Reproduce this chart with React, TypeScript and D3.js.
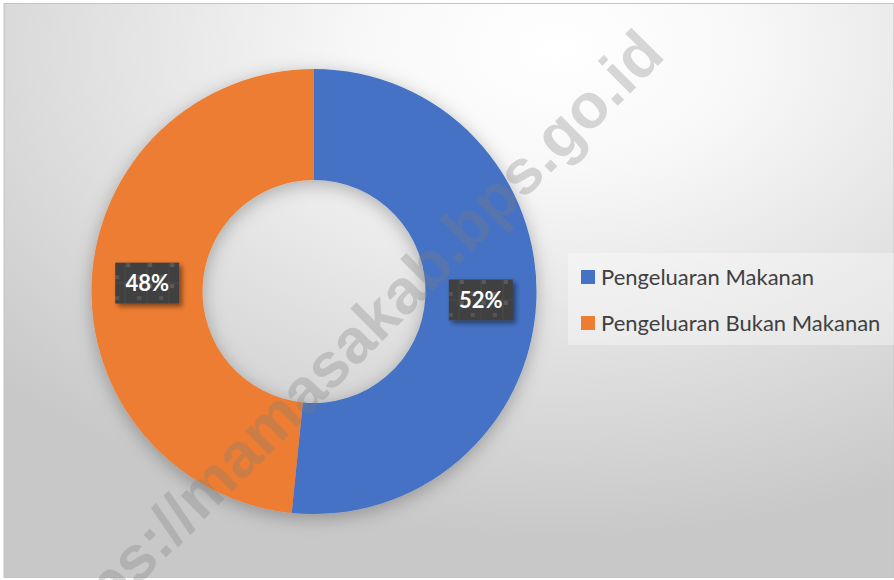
import React from "react";
import * as d3 from "d3";

const categories = ["Pengeluaran Makanan", "Pengeluaran Bukan Makanan"];
const values = [51.6, 48.4];
const labels = ["52%", "48%"];
const colors = ["#4472C4", "#ED7D31"];
const watermark = "https://mamasakab.bps.go.id";

export default function App() {
  const W = 894, H = 580;
  const cx = 314, cy = 291.5, R = 222.5, r = 111.5;
  const pie = d3.pie<number>().sort(null).value((d) => d);
  const arcs = pie(values);
  const arc = d3.arc<d3.PieArcDatum<number>>().innerRadius(r).outerRadius(R);
  const color = d3.scaleOrdinal<string, string>().domain(categories).range(colors);

  return (
    <svg width={W} height={H} style={{ position: "absolute", left: 0, top: 0 }} fontFamily="Lato, 'Noto Sans', sans-serif">
      <defs>
        <radialGradient id="bg" cx="0.62" cy="0.08" r="0.85" gradientUnits="objectBoundingBox">
          <stop offset="0" stopColor="#ffffff" />
          <stop offset="0.25" stopColor="#f8f8f8" />
          <stop offset="1" stopColor="#c8c8c8" />
        </radialGradient>
        <filter id="shadow" x="-20%" y="-20%" width="140%" height="140%">
          <feDropShadow dx="0" dy="4" stdDeviation="9" floodColor="#000" floodOpacity="0.28" />
        </filter>
        <filter id="lblshadow" x="-30%" y="-30%" width="170%" height="170%">
          <feDropShadow dx="3" dy="3" stdDeviation="2.5" floodColor="#000" floodOpacity="0.45" />
        </filter>
        <pattern id="lblpat" width="22" height="21" patternUnits="userSpaceOnUse">
          <rect width="22" height="21" fill="#404040" />
          <rect x="0" y="0" width="22" height="21" fill="none" stroke="#4a4a4a" strokeWidth="1" />
          <rect x="1" y="1" width="4" height="4" fill="#5a5a5a" />
          <rect x="12" y="13" width="4" height="4" fill="#555555" />
        </pattern>
      </defs>
      <rect x={0} y={0} width={W} height={H} fill="#ffffff" />
      <rect x={4} y={3.5} width={890} height={574} fill="url(#bg)" stroke="#c4c4c4" strokeWidth={1} />

      <g transform={`translate(${cx},${cy})`} filter="url(#shadow)">
        {arcs.map((a, i) => (
          <path key={i} d={arc(a) || ""} fill={color(categories[i])} />
        ))}
      </g>

      {arcs.map((a, i) => {
        const [x, y] = arc.centroid(a);
        const bw = 64, bh = 41;
        return (
          <g key={i} transform={`translate(${cx + x},${cy + y})`}>
            <rect x={-bw / 2} y={-bh / 2} width={bw} height={bh} fill="url(#lblpat)" filter="url(#lblshadow)" />
            <text x={0} y={8} textAnchor="middle" fill="#ffffff" fontWeight="bold" fontSize={22}>
              {labels[i]}
            </text>
          </g>
        );
      })}

      <rect x={568} y={253} width={326} height={92} fill="#ffffff" fillOpacity={0.35} />
      {categories.map((c, i) => (
        <g key={c} transform={`translate(581,${270 + i * 46})`}>
          <rect x={0} y={0} width={14} height={14} fill={color(c)} />
          <text x={20} y={14.5} fontSize={22} fill="#404040">
            {c}
          </text>
        </g>
      ))}

      <text
        transform={`translate(348,352) rotate(-45)`}
        textAnchor="middle"
        dominantBaseline="middle"
        fontFamily="'Liberation Sans', Arial, sans-serif"
        fontWeight="bold"
        fontSize={63}
        fill="#7f7f7f"
        fillOpacity={0.3}
      >
        {watermark}
      </text>
    </svg>
  );
}
